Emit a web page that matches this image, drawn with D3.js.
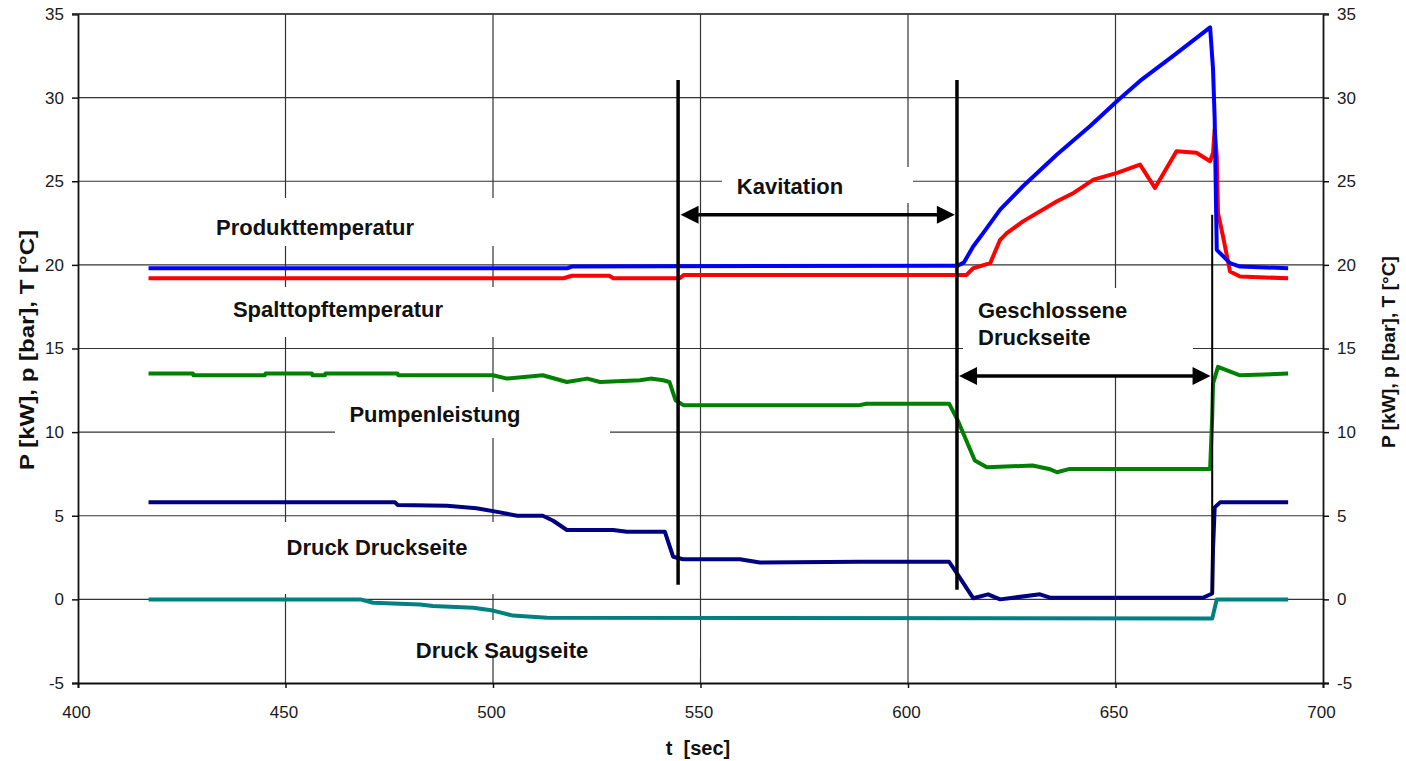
<!DOCTYPE html>
<meta charset="utf-8">
<script src="https://d3js.org/d3.v7.min.js"></script>
<style>
  body { margin: 0; background: #fff; }
  .lbl { font-family: "Liberation Sans", Arial, sans-serif; font-weight: bold; font-size: 22px; fill: #111; }
  .tick text { font-family: "Liberation Sans", Arial, sans-serif; font-size: 17px; fill: #1a1a1a; }
</style>
<div id="chart"></div>
<script>
// x ticks / y ticks
var xTicks = [400, 450, 500, 550, 600, 650, 700];
var yTicks = [-5, 0, 5, 10, 15, 20, 25, 30, 35];

// series [t, value]
var produkttemperatur = [[417,19.8],[518,19.8],[519,19.9],[607.7,19.95],[612,19.95],[613.5,20.15],[615.7,21.1],[618.1,21.9],[622.2,23.3],[627.7,24.7],[635.9,26.6],[643.9,28.3],[650.4,29.8],[655.9,31.0],[663.9,32.5],[672.8,34.2],[673.5,31.7],[673.9,28.7],[674.4,20.9],[677.6,20.1],[680,19.9],[691.6,19.8]];
var spalttopftemperatur = [[417,19.2],[517,19.2],[519,19.35],[528,19.35],[529,19.2],[545,19.2],[546,19.4],[613,19.4],[614.1,19.4],[615.7,19.8],[619.8,20.1],[622.2,21.5],[623.8,21.9],[627.7,22.6],[635.9,23.8],[639.9,24.3],[644.7,25.1],[650.4,25.5],[655.9,26.0],[659.5,24.6],[664.7,26.8],[669.5,26.7],[672.8,26.2],[673.5,26.7],[673.9,28.1],[674.4,26.5],[674.7,23.1],[675.9,21.7],[677.6,19.6],[680,19.3],[691.6,19.2]];
var pumpenleistung = [[417,13.5],[427.7,13.5],[427.8,13.4],[445,13.4],[445.2,13.5],[456.4,13.5],[456.5,13.4],[459.5,13.4],[459.6,13.5],[477,13.5],[477.2,13.4],[500,13.4],[503.4,13.2],[512,13.4],[517.8,13.0],[522.7,13.2],[525.8,13.0],[535.4,13.1],[538,13.2],[541,13.1],[542.5,13.0],[544,11.9],[546,11.6],[588,11.6],[590,11.7],[609.9,11.7],[612,10.7],[616.1,8.3],[619,7.9],[630,8.0],[634,7.8],[635.9,7.6],[639,7.8],[672.8,7.8],[673.3,10.9],[673.5,12.9],[674.7,13.9],[680,13.4],[691.6,13.5]];
var druckDruckseite = [[417,5.8],[476.4,5.8],[477,5.65],[488.9,5.6],[496,5.45],[501.7,5.2],[505.8,5.0],[512,5.0],[514.5,4.7],[517.8,4.15],[528.9,4.15],[532.3,4.05],[541.4,4.05],[543.4,2.55],[545.8,2.4],[559.5,2.4],[564.3,2.2],[588.4,2.25],[609.9,2.25],[611.8,1.55],[615.7,0.07],[619.3,0.3],[622.2,0.0],[631.8,0.3],[634.2,0.1],[671.1,0.1],[673.3,0.35],[673.5,3.0],[673.9,5.5],[675.2,5.8],[691.6,5.8]];
var druckSaugseite = [[417,0],[468,0],[471.1,-0.2],[482.4,-0.3],[485.5,-0.4],[495.2,-0.5],[500,-0.67],[504.8,-0.97],[513,-1.1],[673.3,-1.15],[674.4,0],[691.6,0]];

var seriesList = [
  {data: druckSaugseite, color: "#008080"},
  {data: druckDruckseite, color: "#000080"},
  {data: pumpenleistung, color: "#008000"},
  {data: spalttopftemperatur, color: "#ff0000"},
  {data: produkttemperatur, color: "#0000ff"}
];

// phase markers: t, from, to, width
var markers = [[544.6, 31.06, 0.87, 3.5], [611.8, 31.06, 0.57, 3.5], [673.3, 23.0, 0.3, 2]];
// arrows: t1, t2, value
var arrows = [[545.2, 611.3, 23.0], [612.3, 672.9, 13.36]];

var width = 1406, height = 761;
var svg = d3.select("#chart").append("svg")
    .attr("width", width).attr("height", height);

var x = d3.scaleLinear().domain([400, 700]).range([78, 1323]);
var y = d3.scaleLinear().domain([-5, 35]).range([683, 14]);

// grid
svg.append("g").selectAll("line").data(yTicks.filter(function(d){ return d > -5; }))
  .enter().append("line")
    .attr("x1", x(400)).attr("x2", x(700))
    .attr("y1", function(d){ return y(d); }).attr("y2", function(d){ return y(d); })
    .attr("stroke", "#333").attr("stroke-width", 1.2);
svg.append("g").selectAll("line").data(xTicks.slice(1, -1))
  .enter().append("line")
    .attr("x1", function(d){ return x(d); }).attr("x2", function(d){ return x(d); })
    .attr("y1", y(35)).attr("y2", y(-5))
    .attr("stroke", "#333").attr("stroke-width", 1.2);

// white boxes behind the labels (pixel boxes)
var boxes = [[200,198,310,48],[200,287,313,50],[335,392,275,46],[240,522,290,72],[400,620,300,38],[722,167,191,36],[963,288,230,88]];
svg.append("g").selectAll("rect").data(boxes).enter().append("rect")
    .attr("x", function(d){ return d[0]; }).attr("y", function(d){ return d[1]; })
    .attr("width", function(d){ return d[2]; }).attr("height", function(d){ return d[3]; })
    .attr("fill", "#fff");

// axes
var fmt = function(d){ return String(d); };
var gl = svg.append("g").attr("transform", "translate(" + x(400) + ",0)")
  .call(d3.axisLeft(y).tickValues(yTicks).tickFormat(fmt).tickSize(6).tickPadding(8));
var gr = svg.append("g").attr("transform", "translate(" + x(700) + ",0)")
  .call(d3.axisRight(y).tickValues(yTicks).tickFormat(fmt).tickSize(6).tickPadding(8));
var gb = svg.append("g").attr("transform", "translate(0," + y(-5) + ")")
  .call(d3.axisBottom(x).tickValues(xTicks).tickFormat(fmt).tickSize(5).tickPadding(18));
svg.selectAll(".domain").attr("stroke", "#111").attr("stroke-width", 1.8);
svg.selectAll(".tick line").attr("stroke", "#111").attr("stroke-width", 1.5);
gb.selectAll("text").attr("dx", "-2");
svg.append("line").attr("x1", x(400) - 6).attr("x2", x(700) + 6)
  .attr("y1", y(35)).attr("y2", y(35)).attr("stroke", "#333").attr("stroke-width", 1.5);

// series
var line = d3.line().x(function(d){ return x(d[0]); }).y(function(d){ return y(d[1]); });
seriesList.forEach(function(s) {
  svg.append("path").datum(s.data)
    .attr("d", line)
    .attr("fill", "none")
    .attr("stroke", s.color)
    .attr("stroke-width", 4)
    .attr("stroke-linejoin", "round");
});

// markers
svg.append("g").selectAll("line").data(markers).enter().append("line")
  .attr("x1", function(d){ return x(d[0]); }).attr("x2", function(d){ return x(d[0]); })
  .attr("y1", function(d){ return y(d[1]); }).attr("y2", function(d){ return y(d[2]); })
  .attr("stroke", "#000").attr("stroke-width", function(d){ return d[3]; });

// arrows
arrows.forEach(function(a) {
  var x1 = x(a[0]), x2 = x(a[1]), yy = y(a[2]);
  svg.append("line").attr("x1", x1 + 10).attr("x2", x2 - 10).attr("y1", yy).attr("y2", yy)
    .attr("stroke", "#000").attr("stroke-width", 3.5);
  svg.append("path").attr("d", "M" + x1 + "," + yy + "l18,-9l0,18z").attr("fill", "#000");
  svg.append("path").attr("d", "M" + x2 + "," + yy + "l-18,-9l0,18z").attr("fill", "#000");
});

// labels
var labels = [
  ["Produkttemperatur", 315, 235, "middle"],
  ["Spalttopftemperatur", 338, 317, "middle"],
  ["Pumpenleistung", 435, 422, "middle"],
  ["Druck Druckseite", 377, 555, "middle"],
  ["Druck Saugseite", 502, 658, "middle"],
  ["Kavitation", 790, 194, "middle"],
  ["Geschlossene", 978, 318, "start"],
  ["Druckseite", 978, 345, "start"]
];
svg.append("g").selectAll("text").data(labels).enter().append("text")
  .attr("class", "lbl")
  .attr("x", function(d){ return d[1]; }).attr("y", function(d){ return d[2]; })
  .attr("text-anchor", function(d){ return d[3]; })
  .text(function(d){ return d[0]; });

// axis titles
svg.append("text").attr("class", "lbl").style("font-size", "20px")
  .attr("transform", "translate(34,350) rotate(-90)")
  .attr("text-anchor", "middle")
  .attr("textLength", 240).attr("lengthAdjust", "spacingAndGlyphs")
  .text("P [kW], p [bar], T [°C]");
svg.append("text").attr("class", "lbl").style("font-size", "19px")
  .attr("transform", "translate(1395,352) rotate(-90)")
  .attr("text-anchor", "middle")
  .attr("textLength", 192).attr("lengthAdjust", "spacingAndGlyphs")
  .text("P [kW], p [bar], T [°C]");
svg.append("text").attr("class", "lbl").style("font-size", "20px")
  .attr("x", 698).attr("y", 755).attr("text-anchor", "middle")
  .attr("xml:space", "preserve")
  .text("t  [sec]");
</script>
